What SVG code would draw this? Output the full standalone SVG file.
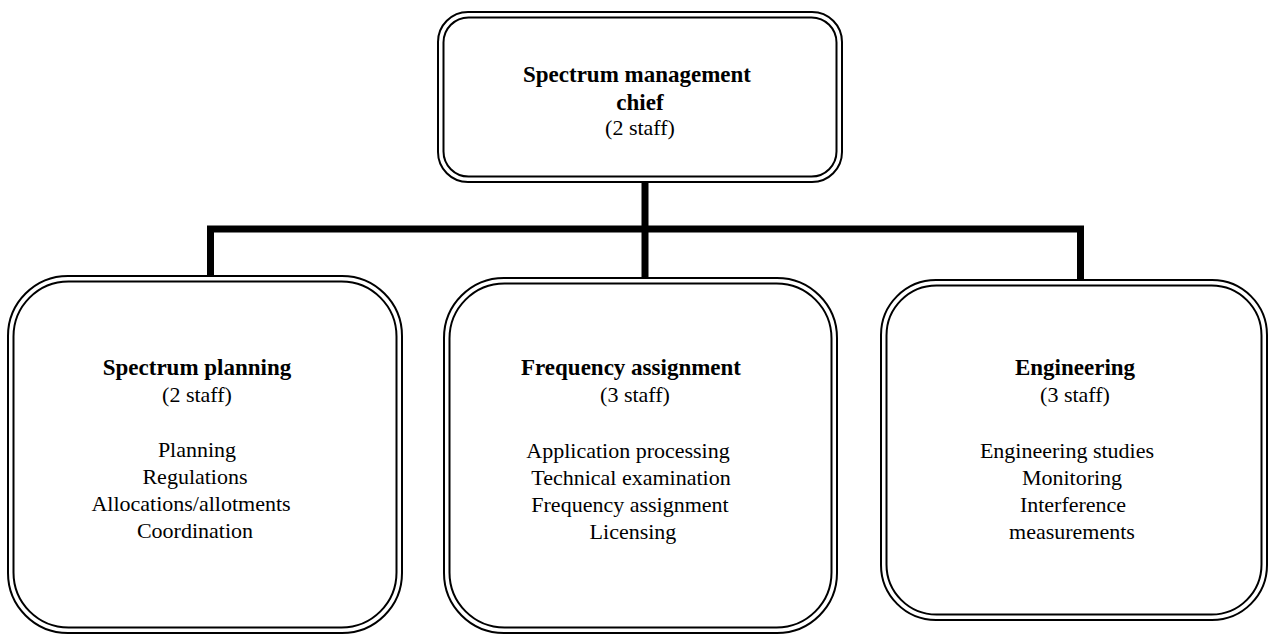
<svg xmlns="http://www.w3.org/2000/svg" width="1269" height="635" viewBox="0 0 1269 635">
  <style>
    .frame { fill: none; stroke: #000; stroke-width: 2; }
    .fill { fill: #fff; }
    .link { fill: none; stroke: #000; stroke-width: 7; stroke-linecap: butt; }
    text { font-family: "Liberation Serif", "Times New Roman", serif; font-size: 22px; fill: #000; text-anchor: middle; }
    .title { font-weight: bold; font-size: 23px; }
  </style>
  <rect width="1269" height="635" fill="#fff"/>

  <!-- connectors -->
  <g id="connectors">
    <line class="link" x1="645" y1="181" x2="645" y2="229"/>
    <line class="link" x1="207" y1="229" x2="1084" y2="229"/>
    <line class="link" x1="210.5" y1="229" x2="210.5" y2="276"/>
    <line class="link" x1="645" y1="229" x2="645" y2="279"/>
    <line class="link" x1="1080.5" y1="229" x2="1080.5" y2="280"/>
  </g>

  <!-- chief -->
  <g id="chief">
    <rect class="fill frame" x="438" y="12" width="404" height="170" rx="30"/>
    <rect class="frame" x="443.5" y="17.5" width="393" height="159" rx="25"/>
    <text class="title" x="637" y="82">Spectrum management</text>
    <text class="title" x="640" y="110">chief</text>
    <text x="640" y="135">(2 staff)</text>
  </g>

  <!-- spectrum planning -->
  <g id="planning">
    <rect class="fill frame" x="8" y="276" width="394" height="357" rx="60"/>
    <rect class="frame" x="13.5" y="281.5" width="383" height="346" rx="55"/>
    <text class="title" x="197" y="375">Spectrum planning</text>
    <text x="197" y="402">(2 staff)</text>
    <text x="197" y="457">Planning</text>
    <text x="195" y="484">Regulations</text>
    <text x="191" y="511">Allocations/allotments</text>
    <text x="195" y="538">Coordination</text>
  </g>

  <!-- frequency assignment -->
  <g id="assignment">
    <rect class="fill frame" x="444" y="278" width="393" height="355" rx="60"/>
    <rect class="frame" x="449.5" y="283.5" width="382" height="344" rx="55"/>
    <text class="title" x="631" y="375">Frequency assignment</text>
    <text x="635" y="402">(3 staff)</text>
    <text x="628" y="458">Application processing</text>
    <text x="631" y="485">Technical examination</text>
    <text x="630" y="512">Frequency assignment</text>
    <text x="633" y="539">Licensing</text>
  </g>

  <!-- engineering -->
  <g id="engineering">
    <rect class="fill frame" x="881" y="280" width="386" height="340" rx="55"/>
    <rect class="frame" x="886.5" y="285.5" width="375" height="329" rx="50"/>
    <text class="title" x="1075" y="375">Engineering</text>
    <text x="1075" y="402">(3 staff)</text>
    <text x="1067" y="458">Engineering studies</text>
    <text x="1072" y="485">Monitoring</text>
    <text x="1073" y="512">Interference</text>
    <text x="1072" y="539">measurements</text>
  </g>
</svg>
